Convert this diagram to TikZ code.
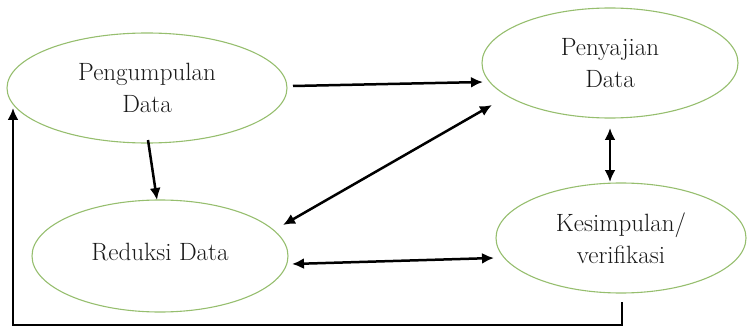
\documentclass[tikz,border=0pt]{standalone}
\usetikzlibrary{shapes.geometric,arrows.meta}
\definecolor{ellgreen}{RGB}{150,190,110}
\definecolor{txtgray}{RGB}{25,25,25}
\begin{document}
\begin{tikzpicture}[x=1pt,y=-1pt,
  oval/.style={ellipse,draw=ellgreen,line width=1.1pt,inner sep=0pt,
    align=center,text=txtgray,font=\fontsize{25}{32}\selectfont},
  conn/.style={line width=2.5pt,black,-{Latex[length=12pt,width=11pt]}},
  dconn/.style={line width=2.5pt,black,{Latex[length=12pt,width=11pt]}-{Latex[length=12pt,width=11pt]}}]
\useasboundingbox (0,0) rectangle (748,329);
\node[oval,minimum width=280pt,minimum height=110pt] (P) at (147,88) {Pengumpulan\\Data};
\node[oval,minimum width=256pt,minimum height=110pt] (S) at (610,63) {\raisebox{-4pt}{Penyajian}\\\raisebox{-4pt}{Data}};
\node[oval,minimum width=256pt,minimum height=112pt] (R) at (160,256) {\raisebox{8pt}{Reduksi Data}};
\node[oval,minimum width=250pt,minimum height=110pt] (K) at (621,238) {Kesimpulan/\\verifikasi};
% arrows
\draw[conn] ([shift={(146,-2)}]P.center) -- ([shift={(-127,19)}]S.center);
\draw[conn] ([shift={(1,52)}]P.center) -- ([shift={(-3,-56)}]R.center);
\draw[dconn] ([shift={(123,-31)}]R.center) -- ([shift={(-118,42)}]S.center);
\draw[dconn] ([shift={(132,8)}]R.center) -- ([shift={(-127,20)}]K.center);
\draw[dconn] ([shift={(0,65)}]S.center) -- ([shift={(-11,-56)}]K.center);
\draw[conn,line join=miter] ([shift={(1,64)}]K.center) -- ++(0,23) -| ([shift={(-134,20)}]P.center);
\end{tikzpicture}
\end{document}
